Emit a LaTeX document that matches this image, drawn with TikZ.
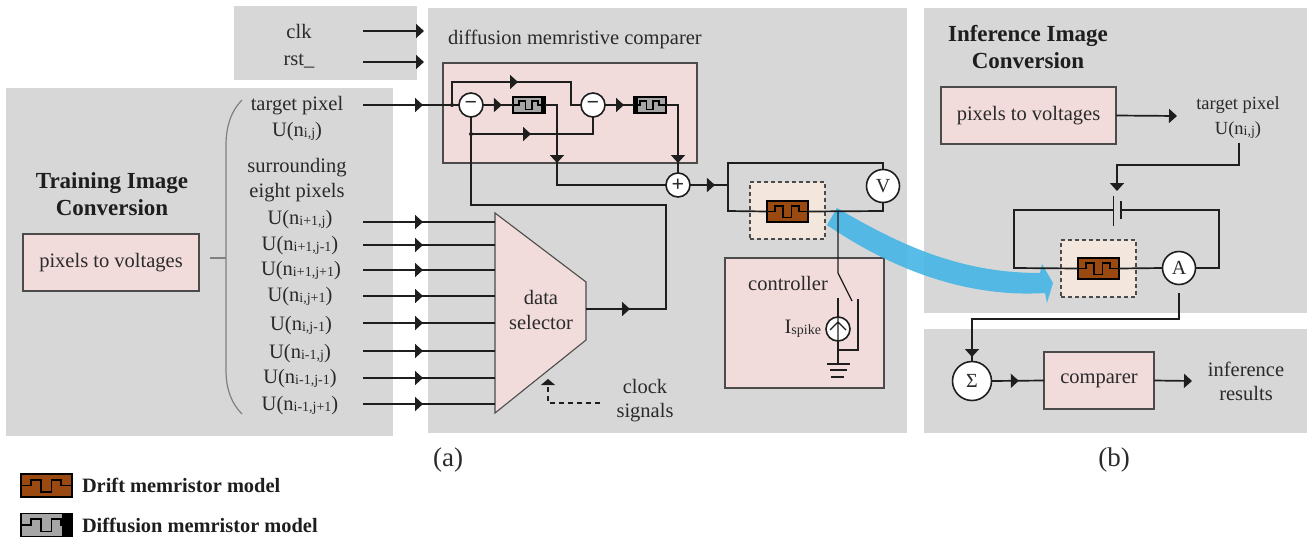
\documentclass[tikz,border=0pt]{standalone}
\usepackage{fontspec}
\setmainfont{Liberation Serif}
\usetikzlibrary{arrows.meta,decorations.markings,calc}
\definecolor{panelgrey}{HTML}{D7D7D7}
\definecolor{pinkbox}{HTML}{F2DCDB}
\definecolor{peach}{HTML}{F3E6DC}
\definecolor{drift}{HTML}{9A4A10}
\definecolor{diffu}{HTML}{A6A6A6}
\definecolor{inkc}{HTML}{1E1E1E}
\definecolor{txt}{HTML}{2A2A2A}
\definecolor{bluearrow}{HTML}{45B5E5}
\newcommand{\lsub}[1]{{\fontsize{14}{14}\selectfont\raisebox{-1pt}{#1}}}
\newcommand{\bx}[7]{%
  \pgfmathsetmacro\bxw{#5-#3}\pgfmathsetmacro\bxh{#6-#4}%
  \node[#1,minimum width=\bxw pt,minimum height=\bxh pt] (#2) at ({(#3+#5)/2},{(#4+#6)/2}) {#7};}
\tikzset{
  panel/.style={fill=panelgrey,inner sep=0,outer sep=0},
  pbox/.style={fill=pinkbox,draw=inkc!80,line width=1.1pt,inner sep=0,outer sep=0,text=txt,font=\fontsize{20.5}{22}\selectfont},
  dbox/.style={fill=peach,draw=inkc!80,dash pattern=on 4pt off 3pt,line width=1.2pt,inner sep=0,outer sep=0},
  lbl/.style={text=txt,font=\fontsize{20.5}{22}\selectfont,inner sep=0,outer sep=0},
  head/.style={text=inkc,font=\fontsize{23}{27}\bfseries\selectfont,inner sep=0,outer sep=0},
  legendtxt/.style={text=inkc,anchor=west,font=\fontsize{20.4}{22}\bfseries\selectfont,inner sep=0,outer sep=0},
  wire/.style={draw=inkc,line width=1.7pt},
  thinw/.style={draw=inkc,line width=1.3pt},
  ahead/.style={-{Triangle[length=8pt,width=14pt]}},
  midtip/.style={postaction={decorate},decoration={markings,mark=at position #1 with {\arrow{Triangle[length=8pt,width=14pt]}}}},
  opc/.style={circle,fill=white,draw=inkc,line width=1.6pt,inner sep=0,outer sep=0,minimum size=#1,text=txt},
  memr/.style n args={5}{fill=#1,draw=black,line width=1.7pt,inner sep=0,outer sep=0,minimum width=#2,minimum height=#3,
    path picture={
      \begin{scope}[shift={(path picture bounding box.center)},x=#2,y=#3]
        \fill[black] (#4,-.5) rectangle (#5,.5);
        \draw[black,line width=1.7pt] (-.5,0)--(-.31,0)--(-.31,.25)--(-.105,.25)--(-.105,-.28)--(.1,-.28)--(.1,.25)--(.285,.25)--(.285,0)--(.5,0);
      \end{scope}}},
}
\begin{document}
\begin{tikzpicture}[x=1pt,y=-1pt]
\useasboundingbox (0,0) rectangle (1309,538);
% panels
\bx{panel}{pclk}{234}{6}{417}{80}{}
\bx{panel}{ptrain}{6}{88}{393}{436}{}
\bx{panel}{pmid}{428}{8}{907}{433}{}
\bx{panel}{pinf}{924}{8}{1307}{313}{}
\bx{panel}{pres}{924}{329}{1307}{433}{}
% pink boxes
\bx{pbox}{train}{23}{234}{199}{291}{pixels to voltages}
\bx{pbox}{cmpbox}{443}{63}{697}{163}{}
\bx{pbox}{ctrl}{725}{258}{884}{388}{}
\bx{pbox}{infbox}{941}{87}{1116}{144}{pixels to voltages}
\bx{pbox}{comparer}{1044}{352}{1154}{409}{comparer}
\bx{dbox}{dash1}{750}{182}{825}{239}{}
\bx{dbox}{dash2}{1061}{240}{1136}{297}{}
% selector
\path[fill=pinkbox,draw=inkc!80,line width=1.1pt] (495,213) -- (586,282) -- (586,340) -- (495,413) -- cycle;
\coordinate (selout) at (586,309);
\node[lbl,align=center,font=\fontsize{20.5}{25}\selectfont] (seltxt) at (541,310) {data\\selector};
% blue arrow
\fill[bluearrow,opacity=.9] (837,208) .. controls (900,245) and (960,273) .. (1040,273)
  -- (1042,264) -- (1053,283) -- (1047,303) -- (1045,293)
  .. controls (965,298) and (890,268) .. (827,225) -- cycle;
% titles and labels
\node[lbl] (lclk) at (299,31) {clk};
\node[lbl] (lrst) at (299,61) {rst\_};
\coordinate (clkA) at (363,31); \coordinate (clkB) at (424,31);
\coordinate (rstA) at (363,62); \coordinate (rstB) at (424,62);
\draw[wire,ahead] (clkA) -- (clkB);
\draw[wire,ahead] (rstA) -- (rstB);
\node[lbl] (cmplbl) at (575,39) {diffusion memristive comparer};
\node[head,align=center] (trainT) at (112,194) {Training Image\\Conversion};
\node[head,align=center] (infT) at (1028,47) {Inference Image\\Conversion};
\node[lbl] (t1) at (297,106) {target pixel};
\node[lbl] (t2) at (297,132) {U(n\lsub{i,j})};
\node[lbl] (t3) at (297,168) {surrounding};
\node[lbl] (t4) at (297,193) {eight pixels};
\node[lbl] (u1) at (300,220) {U(n\lsub{i+1,j})};
\node[lbl] (u2) at (300,246) {U(n\lsub{i+1,j-1})};
\node[lbl] (u3) at (301,271) {U(n\lsub{i+1,j+1})};
\node[lbl] (u4) at (300,297) {U(n\lsub{i,j+1})};
\node[lbl] (u5) at (301,326) {U(n\lsub{i,j-1})};
\node[lbl] (u6) at (300,354) {U(n\lsub{i-1,j})};
\node[lbl] (u7) at (300,379) {U(n\lsub{i-1,j-1})};
\node[lbl] (u8) at (300,406) {U(n\lsub{i-1,j+1})};
% brace
\coordinate (brT) at (242,100); \coordinate (brB) at (242,414); \coordinate (brM) at (226,258); \coordinate (brL) at (199,258);
\draw[draw=gray,line width=1.2pt] (brT) .. controls (232,110) and (226,125) .. (226,145) -- (226,370) .. controls (226,390) and (232,404) .. (brB);
\draw[draw=gray,line width=1.2pt] (brL) ++(11,0) -- (brM);
% inputs
\foreach \n/\yy in {1/222,2/245,3/270,4/296,5/323,6/351,7/378,8/404}{
  \coordinate (inA\n) at (363,\yy);
  \coordinate (inB\n) at (495,\yy);
  \draw[wire,midtip=60pt] (inA\n) -- (inB\n);
}
% comparer network
\node[opc=24pt,font=\bfseries\fontsize{22}{22}\selectfont] (sub1) at (471,105) {−};
\node[opc=24pt,font=\bfseries\fontsize{22}{22}\selectfont] (sub2) at (593,105) {−};
\node[opc=24pt,font=\bfseries\fontsize{22}{22}\selectfont] (plus) at (678,185) {+};
\node[memr={diffu}{32pt}{16pt}{.36}{.5}] (mem1) at (529,105) {};
\node[memr={diffu}{32pt}{16pt}{-.5}{-.36}] (mem2) at (650,105) {};
\coordinate (tgtA) at (363,105);
\coordinate (j1) at (452,105);
\coordinate (j2) at (471,134);
\draw[wire,midtip=60pt] (tgtA) -- (sub1.west);
\draw[wire,midtip=89pt] (j1) -- (452,82) -- (571,82) -- (571,105) -- (sub2.west);
\draw[wire,midtip=.63] (sub1.east) -- (mem1.west);
\draw[wire,midtip=.655] (sub2.east) -- (mem2.west);
\draw[wire,midtip=60pt] (j2) -- (593,134) -- (sub2.south);
\draw[wire,midtip=70pt] (mem1.east) -- (557,105) -- (557,185) -- (plus.west);
\draw[wire,midtip=70pt] (mem2.east) -- (678,105) -- (plus.north);
\fill[inkc] (j1) circle (2pt) (j2) circle (2pt);
\draw[wire] (sub1.south) -- (471,205) -- (666,205) -- (666,309) -- (selout);
\draw[wire,midtip=.55] (selout) -- (666,309);
% circuit a
\node[opc=33pt,font=\fontsize{20}{20}\selectfont] (V) at (883,186) {V};
\node[memr={drift}{41pt}{21pt}{2}{2}] (mem3) at (787.5,211.5) {};
\draw[wire,midtip=.64] (plus.east) -- (729,185);
\draw[wire] (V.north) -- (883,163) -- (728,163) -- (728,211) -- (mem3.west);
\draw[wire] (mem3.east) -- (883,211) -- (V.south);
% controller
\node[lbl] (ctrlT) at (788,283) {controller};
\node[opc=24pt] (src) at (838,329) {};
\node[lbl,anchor=east] (ispk) at (821,329) {I\lsub{spike}};
\coordinate (n1) at (838,211); \coordinate (n2) at (838,273); \coordinate (n3) at (852,301);
\draw[thinw] (n1) -- (n2) -- (n3);
\coordinate (g0) at (838,364);
\draw[thinw] (838,298) -- (src.north);
\draw[thinw] (src.south) -- (g0);
\draw[thinw] (858,299) -- (858,350) -- (838,350);
\draw[thinw] (src.south) -- (src.north) (830,330) -- (838,322) -- (846,330);
\draw[thinw] (827,364) -- (850,364) (830,370) -- (847,370) (831,377) -- (844,377);
% clock
\coordinate (clkS) at (600,403); \coordinate (clkE) at (548,379);
\draw[line width=1.2pt,draw=inkc,dash pattern=on 5pt off 4pt,-{Triangle[length=6pt,width=14pt]}] (clkS) -- (548,403) -- (clkE);
\node[lbl,align=center,font=\fontsize{20.5}{24}\selectfont] (clkT) at (645,401) {clock\\signals};
% inference side
\coordinate (infO) at (1177,116);
\draw[wire,ahead] (infbox.east) -- (infO);
\node[lbl,font=\fontsize{18.5}{20}\selectfont] (r1) at (1238,105) {target pixel};
\node[lbl,font=\fontsize{18.5}{20}\selectfont] (r2) at (1238,130) {U(n\lsub{i,j})};
\coordinate (r3) at (1239,143); \coordinate (bat) at (1117,191);
\draw[wire,ahead] (r3) -- (1239,165) -- (1117,165) -- (bat);
\coordinate (batL) at (1113.5,210); \coordinate (batR) at (1121,210);
\draw[wire] (1113.5,196) -- (1113.5,226);
\draw[wire] (1121,201) -- (1121,219);
\node[opc=33pt,font=\fontsize{20}{20}\selectfont] (A) at (1179,268) {A};
\node[memr={drift}{41pt}{21pt}{2}{2}] (mem4) at (1098.5,268.5) {};
\draw[wire] (batL) -- (1014,210) -- (1014,268) -- (mem4.west);
\draw[wire] (mem4.east) -- (A.west);
\draw[wire] (A.east) -- (1219,268) -- (1219,210) -- (batR);
\node[opc=39pt,font=\fontsize{20}{20}\selectfont] (sum) at (972,381) {Σ};
\coordinate (a1) at (1179,293);
\draw[wire,ahead] (a1) -- (1179,319) -- (972,319) -- (972,357);
\draw[wire] (972,356) -- (sum.north);
\draw[wire,midtip=.52] (sum.east) -- (comparer.west);
\coordinate (resE) at (1192,381);
\draw[wire,ahead] (comparer.east) -- (resE);
\node[lbl,align=center,font=\fontsize{20.5}{24}\selectfont] (resT) at (1246,381) {inference\\results};
% captions
\node[lbl,font=\fontsize{27}{29}\selectfont] (capa) at (448,460) {(a)};
\node[lbl,font=\fontsize{27}{29}\selectfont] (capb) at (1114,460) {(b)};
% legend
\node[memr={drift}{51pt}{23pt}{2}{2}] (leg1) at (46.5,485.5) {};
\node[memr={diffu}{51pt}{23pt}{.3}{.5}] (leg2) at (46.5,525) {};
\node[legendtxt] (leg1T) at (82,485) {Drift memristor model};
\node[legendtxt] (leg2T) at (82,525) {Diffusion memristor model};
\end{tikzpicture}
\end{document}
